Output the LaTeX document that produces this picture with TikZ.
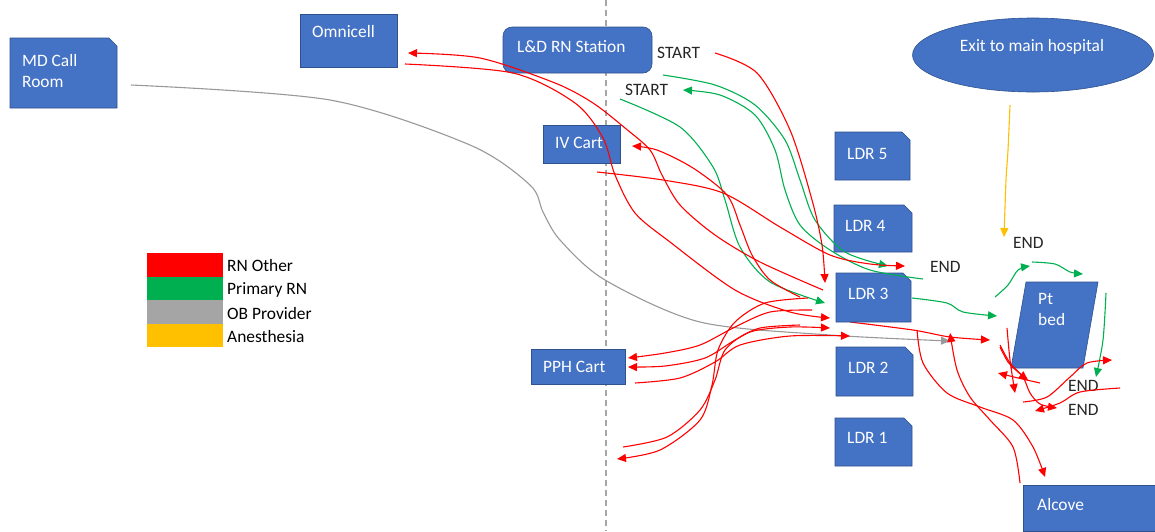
\documentclass[tikz,border=0pt]{standalone}
\usepackage{fontspec}
\setmainfont{Carlito}
\usetikzlibrary{arrows.meta,shapes.geometric}
\definecolor{boxblue}{HTML}{4472C4}
\definecolor{boxedge}{HTML}{2F528F}
\definecolor{rnred}{HTML}{FF0000}
\definecolor{rngreen}{HTML}{00B050}
\definecolor{obgray}{HTML}{A5A5A5}
\definecolor{obline}{HTML}{999999}
\definecolor{anorange}{HTML}{FFC000}
\definecolor{txt}{HTML}{262626}
\newcommand\snipbox[5]{%
  \filldraw[boxfill] (#1,#2) -- (#3-8,#2) -- (#3,#2+8) -- (#3,#4) -- (#1,#4) -- cycle;
  \coordinate (#5) at ({(#1+#3)/2},{(#2+#4)/2});}
\newcommand\plainbox[5]{%
  \filldraw[boxfill] (#1,#2) rectangle (#3,#4);
  \coordinate (#5) at ({(#1+#3)/2},{(#2+#4)/2});}
\begin{document}
\begin{tikzpicture}[x=1pt,y=-1pt,
  font=\fontsize{17.4}{20}\selectfont,
  boxfill/.style={fill=boxblue,draw=boxedge,line width=0.6pt},
  wlbl/.style={text=white,anchor=west,inner sep=0pt},
  blbl/.style={text=txt,anchor=west,inner sep=0pt},
  rline/.style={rnred,line width=1.1pt},
  gline/.style={rngreen,line width=1.1pt},
  arrowed/.style={-{Triangle[length=9pt,width=8pt]}}]
\useasboundingbox (0,0) rectangle (1155,531);
\fill[white] (0,0) rectangle (1155,531);
% divider
\draw[gray!70,line width=1.1pt,dash pattern=on 6pt off 4pt] (606,0) -- (606,531);
% line hidden below LDR3
\draw[rline,arrowed] plot[smooth] coordinates {(850,322) (913,330) (950,337) (990,340)};
% boxes
\snipbox{10}{38}{117}{108}{mdroom}
\plainbox{300}{14}{397}{67}{omni}
\filldraw[boxfill,rounded corners=9pt] (503,27) rectangle (652,73);
\coordinate (station) at (577,50);
\plainbox{543}{125}{620}{163}{ivcart}
\snipbox{835}{132}{910}{180}{ldrfive}
\snipbox{834}{205}{912}{252}{ldrfour}
\snipbox{836}{273}{911}{322}{ldrthree}
\snipbox{836}{347}{913}{396}{ldrtwo}
\snipbox{835}{418}{912}{466}{ldrone}
\plainbox{531}{349}{625}{384}{pph}
\plainbox{1023}{485}{1155}{531}{alcove}
\filldraw[boxfill] (1026,282) -- (1098,282) -- (1083,368) -- (1011,368) -- cycle;
\coordinate (ptbed) at (1055,325);
\node[ellipse,fill=boxblue,draw=boxedge,line width=0.6pt,minimum width=241pt,minimum height=74pt,inner sep=0pt] (exit) at (1033,55) {};
% box texts
\node[wlbl] (tmd1) at (22,61) {MD Call};
\node[wlbl] (tmd2) at (22,82) {Room};
\node[wlbl] (tomni) at (312,32) {Omnicell};
\node[wlbl] (tstation) at (517,47) {L\&D RN Station};
\node[wlbl] (tiv) at (555,143) {IV Cart};
\node[wlbl] (t5) at (847,154) {LDR 5};
\node[wlbl] (t4) at (845,226) {LDR 4};
\node[wlbl] (t3) at (848,294) {LDR 3};
\node[wlbl] (t2) at (848,368) {LDR 2};
\node[wlbl] (t1) at (847,438) {LDR 1};
\node[wlbl] (tpph) at (543,367) {PPH Cart};
\node[wlbl] (talc) at (1037,505) {Alcove};
\node[wlbl] (tpt) at (1038,299) {Pt};
\node[wlbl] (tbed) at (1038,320) {bed};
\node[text=white,inner sep=0pt] (texit) at (1032,47) {Exit to main hospital};
% legend
\fill[rnred] (147,253) rectangle (223,277);
\fill[rngreen] (147,277) rectangle (223,300);
\fill[obgray] (147,300) rectangle (223,324);
\fill[anorange] (147,324) rectangle (223,347);
\node[blbl,text=black] (lg1) at (227,266) {RN Other};
\node[blbl,text=black] (lg2) at (227,290) {Primary RN};
\node[blbl,text=black] (lg3) at (227,314) {OB Provider};
\node[blbl,text=black] (lg4) at (227,337) {Anesthesia};
% labels
\node[blbl] (start1) at (657,53) {START};
\node[blbl] (start2) at (625,90) {START};
\node[blbl] (end1) at (930,267) {END};
\node[blbl] (end2) at (1013,243) {END};
\node[blbl] (end3) at (1068,386) {END};
\node[blbl] (end4) at (1068,410) {END};
% OB provider
\draw[obline,line width=1.1pt,arrowed] plot[smooth] coordinates {(131,85) (330,100) (470,145) (530,185) (543,212) (560,240) (605,280) (700,322) (830,335) (950,341)};
% anesthesia
\draw[anorange,line width=1.1pt,arrowed] plot[smooth] coordinates {(1010,105) (1008,150) (1006,180) (1004,237)};
% primary RN
\draw[gline,arrowed] plot[smooth] coordinates {(620,99) (680,127) (713,167) (725,200) (740,247) (770,282) (825,303)};
\draw[gline,arrowed] plot[smooth] coordinates {(663,75) (715,85) (755,105) (785,140) (800,180) (815,220) (845,252) (888,266)};
\draw[gline,arrowed] plot[smooth] coordinates {(923,279) (870,270) (830,250) (800,225) (785,190) (775,150) (755,115) (720,95) (683,90)};
\draw[gline,arrowed] plot[smooth] coordinates {(912,298) (947,303) (963,312) (997,316)};
\draw[gline,arrowed] plot[smooth] coordinates {(995,297) (1008,285) (1018,270) (1030,266)};
\draw[gline,arrowed] plot[smooth] coordinates {(1032,262) (1055,264) (1070,272) (1083,274)};
\draw[gline,arrowed] plot[smooth] coordinates {(1106,293) (1103,340) (1096,377)};
% RN other
\draw[rline,arrowed] plot[smooth] coordinates {(715,53) (757,73) (790,130) (812,200) (822,245) (825,283)};
\draw[rline,arrowed] plot[smooth] coordinates {(823,290) (760,262) (715,235) (680,205) (662,175) (650,150) (625,128) (593,103) (555,83) (480,58) (408,53)};
\draw[rline,arrowed] plot[smooth] coordinates {(405,64) (513,73) (575,103) (603,138) (615,175) (635,213) (670,242) (735,290) (790,312) (830,318)};
\draw[rline,arrowed] plot[smooth] coordinates {(800,297) (770,280) (752,255) (740,225) (727,195) (693,168) (657,150) (632,146)};
\draw[rline,arrowed] plot[smooth] coordinates {(597,172) (663,180) (723,193) (780,227) (830,255) (870,264) (905,266)};
\draw[rline,arrowed] plot[smooth] coordinates {(808,298) (765,303) (735,322) (718,350) (712,385) (700,420) (660,450) (617,459)};
\draw[rline,arrowed] plot[smooth] coordinates {(812,310) (770,312) (735,327) (700,345) (665,353) (628,358)};
\draw[rline,arrowed] plot[smooth] coordinates {(800,325) (760,328) (735,340) (705,358) (665,366) (628,367)};
\draw[rline,arrowed] plot[smooth] coordinates {(623,447) (667,437) (700,410) (715,380) (725,350) (750,332) (790,327) (830,328)};
\draw[rline,arrowed] plot[smooth] coordinates {(635,383) (680,378) (715,362) (740,345) (790,336) (850,336)};
\draw[rline,arrowed] plot[smooth] coordinates {(1020,483) (1013,447) (990,420) (970,397) (957,370) (950,333)};
\draw[rline,arrowed] plot[smooth] coordinates {(917,330) (923,363) (947,393) (980,407) (1013,420) (1033,447) (1045,477)};
\draw[rline,arrowed] plot[smooth] coordinates {(1000,347) (1008,362) (1018,372) (1028,380)};
\draw[rline,arrowed] plot[smooth] coordinates {(1007,328) (1010,360) (1015,393)};
\draw[rline,arrowed] plot[smooth] coordinates {(1040,383) (1018,378) (998,373)};
\draw[rline,arrowed] plot[smooth] coordinates {(1120,388) (1080,392) (1060,403) (1035,411)};
\draw[rline,arrowed] plot[smooth] coordinates {(1023,402) (1047,397) (1070,377) (1087,363) (1112,360)};
\draw[rline,arrowed] plot[smooth] coordinates {(1000,345) (1010,363) (1023,377) (1030,393) (1040,404) (1057,408)};
\end{tikzpicture}
\end{document}
